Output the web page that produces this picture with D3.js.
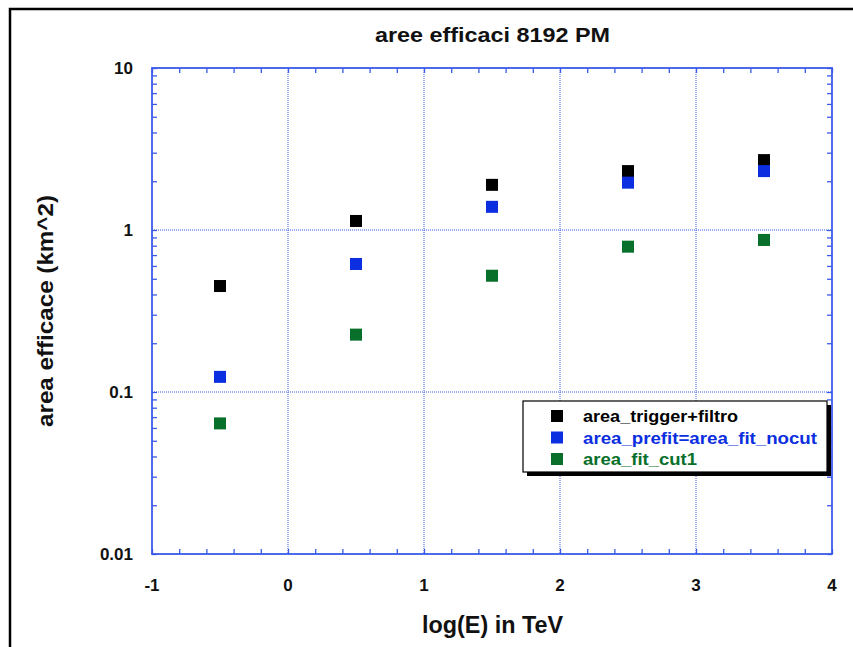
<!DOCTYPE html>
<html><head><meta charset="utf-8">
<script src="https://cdn.jsdelivr.net/npm/d3@7"></script>
<style>body{margin:0;background:#fff;}svg{display:block;font-family:"Liberation Sans",Arial,sans-serif;}</style>
</head><body>
<svg id="c" width="853" height="647"></svg>
<script>
const xValues = [-0.5, 0.5, 1.5, 2.5, 3.5];
const triggerFiltro = [0.451, 1.137, 1.90, 2.31, 2.70];
const prefitNocut = [0.124, 0.617, 1.39, 1.96, 2.31];
const fitCut1 = [0.064, 0.226, 0.522, 0.789, 0.868];
const seriesNames = ["area_trigger+filtro", "area_prefit=area_fit_nocut", "area_fit_cut1"];
const seriesColors = ["#000000", "#0a2ee0", "#08702a"];
const xTicks = [-1, 0, 1, 2, 3, 4];
const yTicks = [0.01, 0.1, 1, 10];
const yTickLabels = ["0.01", "0.1", "1", "10"];

const svg = d3.select("#c");
const L = 152, R = 832, T = 68, B = 554;
const x = d3.scaleLinear().domain([-1, 4]).range([L, R]);
const y = d3.scaleLog().domain([0.01, 10]).range([B, T]);
const axisColor = "#3a5ae8";

// outer frame
svg.append("path").attr("d", "M10,853 L10,9 L853,9").attr("fill", "none").attr("stroke", "#000").attr("stroke-width", 2.5);

// grid
const g = svg.append("g");
[0, 1, 2, 3].forEach(v => g.append("line").attr("x1", x(v)).attr("x2", x(v)).attr("y1", T).attr("y2", B)
  .attr("stroke", axisColor).attr("stroke-width", 1).attr("stroke-dasharray", "1,1"));
[0.1, 1].forEach(v => g.append("line").attr("x1", L).attr("x2", R).attr("y1", y(v)).attr("y2", y(v))
  .attr("stroke", axisColor).attr("stroke-width", 1).attr("stroke-dasharray", "1,1"));

// minor ticks
const xMinor = d3.range(-1, 4.001, 0.2).map(v => +v.toFixed(1));
const yMinor = [];
[0.01, 0.1, 1].forEach(d => { for (let k = 1; k <= 9; k++) yMinor.push(d * k); });
yMinor.push(10);

const axB = d3.axisBottom(x).tickValues(xMinor).tickSize(-5).tickFormat("");
const axT = d3.axisTop(x).tickValues(xMinor).tickSize(-5).tickFormat("");
const axL = d3.axisLeft(y).tickValues(yMinor).tickSize(-5).tickFormat("");
const axR = d3.axisRight(y).tickValues(yMinor).tickSize(-5).tickFormat("");
function style(sel) {
  sel.selectAll("line").attr("stroke", axisColor).attr("stroke-width", 1.3);
}
svg.append("g").attr("transform", `translate(0,${B})`).call(axB).call(style);
svg.append("g").attr("transform", `translate(0,${T})`).call(axT).call(style);
svg.append("g").attr("transform", `translate(${L},0)`).call(axL).call(style);
svg.append("g").attr("transform", `translate(${R},0)`).call(axR).call(style);
svg.selectAll(".domain").remove();
svg.append("rect").attr("x", L).attr("y", T).attr("width", R - L).attr("height", B - T)
  .attr("fill", "none").attr("stroke", axisColor).attr("stroke-width", 1.8);

// tick labels
xTicks.forEach(v => svg.append("text").attr("x", x(v)).attr("y", 591).attr("text-anchor", "middle")
  .attr("font-size", 17).attr("font-weight", "bold").attr("fill", "#111").text(v));
yTicks.forEach((v, i) => svg.append("text").attr("x", 133).attr("y", y(v) + 6).attr("text-anchor", "end")
  .attr("font-size", 17).attr("font-weight", "bold").attr("fill", "#111").text(yTickLabels[i]));

// titles
svg.append("text").attr("x", 375).attr("y", 42).attr("font-size", 20)
  .attr("textLength", 235).attr("lengthAdjust", "spacingAndGlyphs")
  .attr("font-weight", "bold").attr("fill", "#111").text("aree efficaci 8192 PM");
svg.append("text").attr("x", 422).attr("y", 633).attr("font-size", 23)
  .attr("textLength", 141).attr("lengthAdjust", "spacingAndGlyphs")
  .attr("font-weight", "bold").attr("fill", "#111").text("log(E) in TeV");
svg.append("text").attr("transform", `translate(53,${(T + B) / 2}) rotate(-90)`).attr("text-anchor", "middle")
  .attr("font-size", 22).attr("textLength", 232).attr("lengthAdjust", "spacingAndGlyphs")
  .attr("font-weight", "bold").attr("fill", "#111").text("area efficace (km^2)");

// points
const all = [triggerFiltro, prefitNocut, fitCut1];
const S = 12;
all.forEach((vals, si) => {
  svg.append("g").selectAll("rect").data(vals).join("rect")
    .attr("x", (d, i) => x(xValues[i]) - S / 2).attr("y", d => y(d) - S / 2)
    .attr("width", S).attr("height", S).attr("fill", seriesColors[si]);
});

// legend
const lx = 523, ly = 401, lw = 304, lh = 71;
svg.append("rect").attr("x", lx + 4).attr("y", ly + 4).attr("width", lw).attr("height", lh).attr("fill", "#000");
svg.append("rect").attr("x", lx).attr("y", ly).attr("width", lw).attr("height", lh).attr("fill", "#fff")
  .attr("stroke", "#000").attr("stroke-width", 1.2);
const legendLens = [155, 234, 114];
seriesNames.forEach((n, i) => {
  const yy = 416 + i * 21.5;
  svg.append("rect").attr("x", 551).attr("y", yy - 6).attr("width", 12).attr("height", 12).attr("fill", seriesColors[i]);
  svg.append("text").attr("x", 583).attr("y", yy + 6).attr("font-size", 17).attr("font-weight", "bold")
    .attr("textLength", legendLens[i]).attr("lengthAdjust", "spacingAndGlyphs")
    .attr("fill", seriesColors[i]).text(n);
});
</script>
</body></html>
